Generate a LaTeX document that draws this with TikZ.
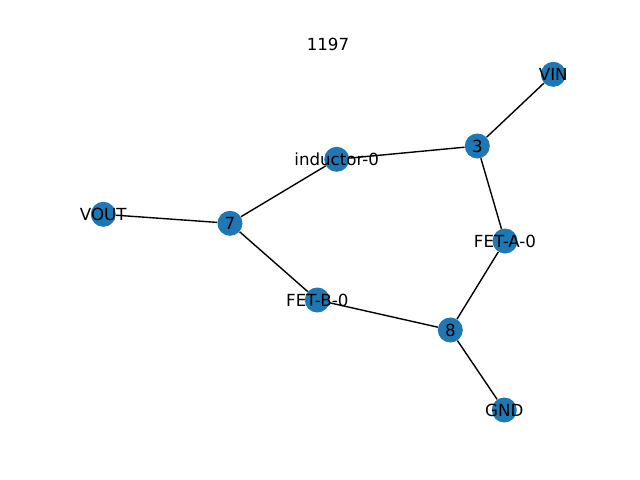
\documentclass[tikz,border=0pt]{standalone}
\usepackage{fontspec}
\setmainfont{DejaVu Sans}
\usetikzlibrary{backgrounds}
\definecolor{nxblue}{RGB}{31,119,180}

\begin{document}
\begin{tikzpicture}[x=0.72pt,y=-0.72pt,vertex/.style={circle,fill=nxblue,minimum size=18pt,inner sep=0pt,label={[font=\fontsize{12}{14}\selectfont,inner sep=0pt]center:#1}},link/.style={draw=black,line width=1pt}]
\useasboundingbox (0,0) rectangle (640,480);

\node (title) at (328,44) {\fontsize{12}{14}\selectfont 1197};

\node[vertex=VIN] (vin)  at (553.3,74.3)  {};
 \node[vertex=3] (n3)   at (477.3,146)   {};
	\node[vertex=inductor-0] (ind)  at (336.7,159.3) {};
	\node[vertex=VOUT] (vout) at (103.3,214.3) {};
	\node[vertex=7] (n7)   at (230,223.3)   {};
	\node[vertex=FET-A-0] (feta) at (505,241)     {};
	\node[vertex=FET-B-0] (fetb) at (317.3,300)   {};
	\node[vertex=8] (n8)   at (450.3,330)   {};
	\node[vertex=GND] (gnd)  at (504.3,410)   {};

\begin{pgfonlayer}{background}
	\path[link] (vin) edge (n3)
		(n3) edge (ind)
		(n3) edge (feta)
		(ind) edge (n7)
		(vout) edge (n7)
		(n7) edge (fetb)
		(fetb) edge (n8)
		(feta) edge (n8)
		(n8) edge (gnd);
\end{pgfonlayer}

\end{tikzpicture}
\end{document}
